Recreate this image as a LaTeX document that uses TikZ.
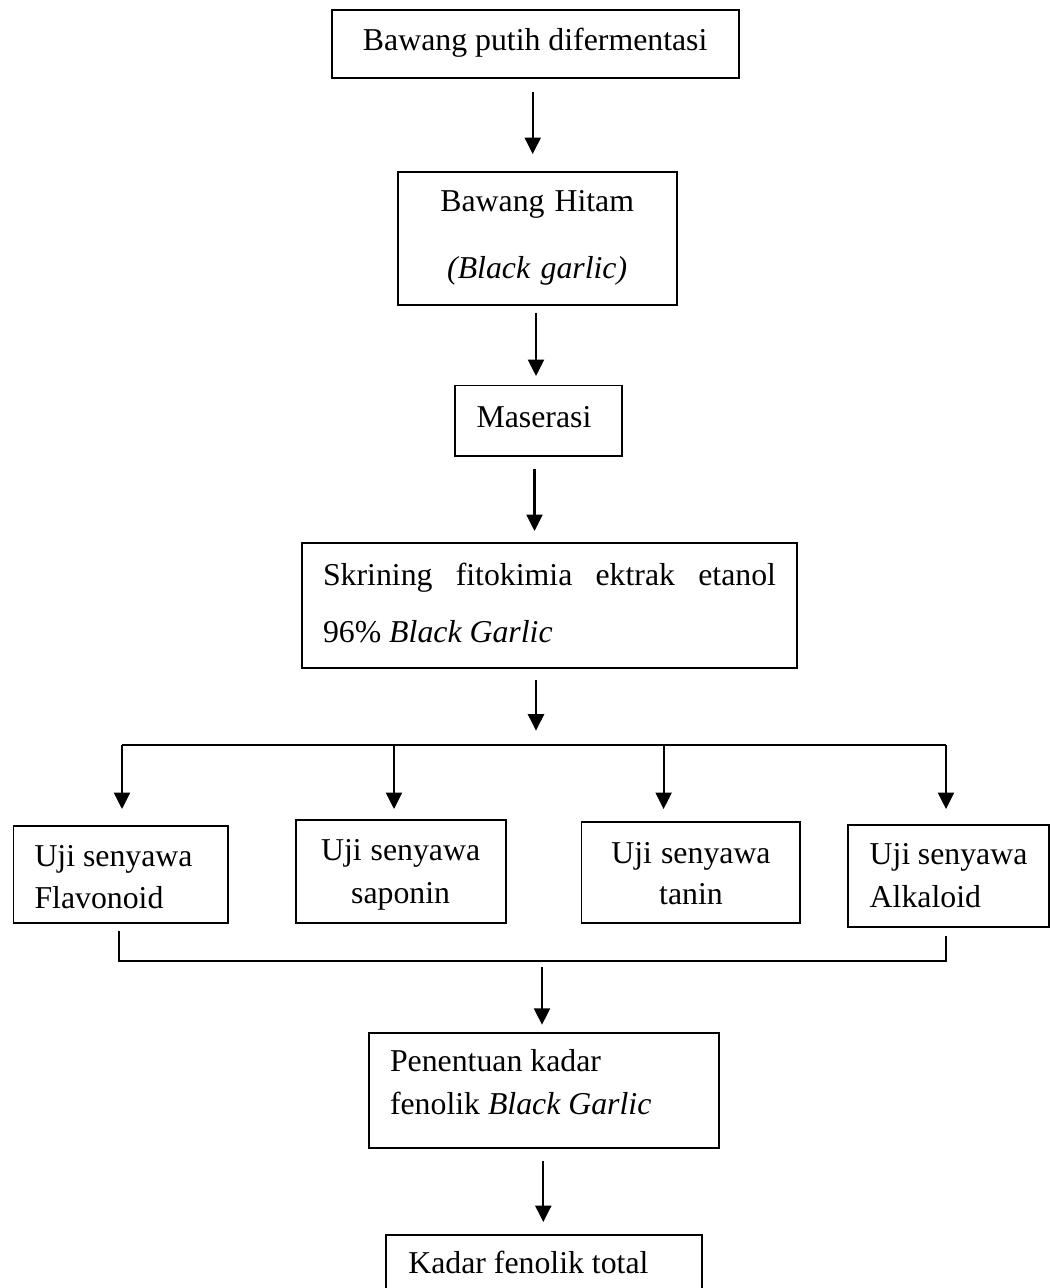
\documentclass[tikz,border=0pt]{standalone}
\usepackage{fontspec}
\setmainfont{Liberation Serif}
\usetikzlibrary{arrows.meta}
\newcommand\fsz[1]{\fontsize{31.8}{#1}\selectfont}
\newcommand\nsp{\spaceskip=0pt\relax\xspaceskip=0pt\relax}
\tikzset{
  box/.style={draw, line width=1.9pt, inner ysep=0pt, inner xsep=0pt},
  ln/.style={line width=2pt},
  arr/.style={line width=2.2pt, -{Triangle[width=16pt,length=16.5pt]}},
}
\begin{document}
\begin{tikzpicture}[x=1pt, y=-1pt]
\useasboundingbox (0,0) rectangle (1050,1288);
\clip (0,0) rectangle (1050,1288);

% boxes
\node[box, minimum width=407pt, minimum height=68pt, text height=12pt, text depth=0pt, font=\fsz{38}]
  (b1) at (535.2,44) {Bawang putih difermentasi};
\node[box, minimum width=279pt, minimum height=133pt, text width=259pt, align=center,
  text height=0pt, text depth=55pt, font=\fsz{67}]
  (b2) at (537.2,238.5) {\nsp Bawang Hitam\\\textit{(Black garlic)}};
\node[box, minimum width=167.2pt, minimum height=70.5pt, inner xsep=21.8pt, text width=123.6pt, align=left,
  text height=12.5pt, text depth=0pt, font=\fsz{38}]
  (mas) at (538.4,420.75) {\nsp Maserasi};
\node[box, minimum width=495pt, minimum height=124.6pt, inner xsep=21pt, text width=453pt, align=left,
  text height=0pt, text depth=40.4pt, font=\fsz{56.5}]
  (skr) at (549.5,605.7) {\nsp\makebox[453pt][s]{Skrining fitokimia ektrak etanol}\\96\% \textit{Black Garlic}};

\node[box, minimum width=214.5pt, minimum height=97pt, inner xsep=21pt, text width=172.5pt, align=left,
  text height=0pt, text depth=17pt, font=\fsz{42}]
  (flav) at (120.75,874.5) {\nsp Uji~senyawa\\Flavonoid};
\node[box, minimum width=210.1pt, minimum height=103pt, text width=190pt, align=center,
  text height=0pt, text depth=21.6pt, font=\fsz{42.3}]
  (sap) at (400.65,871.5) {\nsp Uji~senyawa\\saponin};
\node[box, minimum width=218.9pt, minimum height=101pt, text width=198pt, align=center,
  text height=0pt, text depth=18.2pt, font=\fsz{41.3}]
  (tan) at (690.95,872.5) {\nsp Uji~senyawa\\tanin};
\node[box, minimum width=200.3pt, minimum height=102.4pt, inner xsep=21.3pt, text width=157.7pt, align=left,
  text height=0pt, text depth=23.6pt, font=\fsz{43}]
  (alk) at (948.55,875.8) {\nsp Uji~senyawa\\Alkaloid};

\node[box, minimum width=350pt, minimum height=115.6pt, inner xsep=20.7pt, text width=308.6pt, align=left,
  text height=0pt, text depth=37.6pt, font=\fsz{42.3}]
  (pen) at (544.3,1090.5) {\nsp Penentuan kadar\\fenolik \textit{Black Garlic}};
\node[box, minimum width=316pt, minimum height=75pt, inner xsep=22.6pt, text width=270.8pt, align=left,
  text height=1pt, text depth=0pt, font=\fsz{38}]
  (kad) at (543.7,1272.5) {\nsp Kadar fenolik total};

% coordinates for connector columns
\coordinate (c1) at (532.7,0);
\coordinate (c2) at (536,0);
\coordinate (c3) at (534.5,0);
\coordinate (c4) at (536,745);
\coordinate (t1) at (122,745);
\coordinate (t2) at (394,745);
\coordinate (t3) at (663.6,745);
\coordinate (t4) at (946,745);
\coordinate (u1) at (119,961);
\coordinate (u4) at (946,961);
\coordinate (m5) at (542,961);
\coordinate (c6) at (543.3,0);

% main chain
\draw[arr, shorten <=13.5pt, shorten >=17pt] (b1.south -| c1) -- (b2.north -| c1);
\draw[arr, shorten <=7pt, shorten >=8.5pt] (b2.south -| c2) -- (mas.north -| c2);
\draw[arr, shorten <=12pt, shorten >=11.4pt] (mas.south -| c3) -- (skr.north -| c3);
\draw[arr, shorten <=10.6pt, shorten >=14.3pt] (skr.south -| c4) -- (c4);

% top bracket
\draw[ln] (t1) -- (t4);
\draw[arr, shorten >=16pt] (t1) -- (t1 |- flav.north);
\draw[arr, shorten >=10pt] (t2) -- (t2 |- sap.north);
\draw[arr, shorten >=12pt] (t3) -- (t3 |- tan.north);
\draw[arr, shorten >=14.6pt] (t4) -- (t4 |- alk.north);

% bottom bracket
\draw[ln, shorten <=7pt, shorten >=8pt] (flav.south -| u1) -- (u1) -- (u4) -- (alk.south -| u4);
\draw[arr, shorten <=6pt, shorten >=7pt] (m5) -- (m5 |- pen.north);
\draw[arr, shorten <=11.7pt, shorten >=12pt] (pen.south -| c6) -- (kad.north -| c6);
\end{tikzpicture}
\end{document}
